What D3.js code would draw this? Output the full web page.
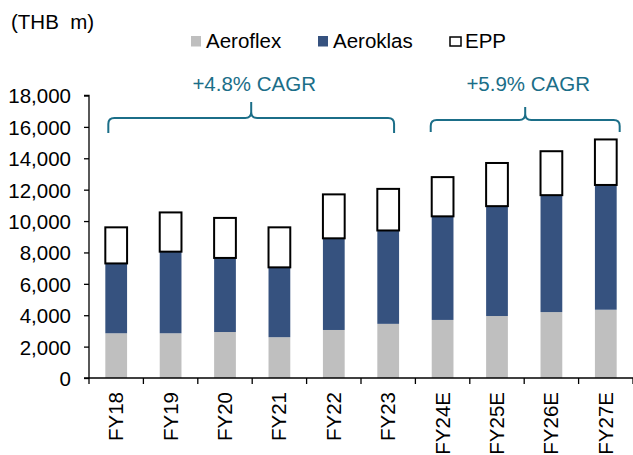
<!DOCTYPE html>
<html><head><meta charset="utf-8">
<script src="https://cdn.jsdelivr.net/npm/d3@7"></script>
<style>body{margin:0;background:#fff}svg{display:block}text{font-family:Arial,"Liberation Sans",sans-serif}</style>
</head><body><svg id="c" width="633" height="455"></svg>
<script>
const categories = ["FY18","FY19","FY20","FY21","FY22","FY23","FY24E","FY25E","FY26E","FY27E"];
const aeroflex = [2850,2850,2930,2600,3060,3450,3700,3950,4200,4350];
const aeroklas = [4450,5200,4720,4450,5840,5950,6600,7000,7450,7950];
const epp      = [2300,2500,2550,2550,2800,2650,2500,2750,2800,2900];
const yTicks = [0,2000,4000,6000,8000,10000,12000,14000,16000,18000];
const seriesNames = ["Aeroflex","Aeroklas","EPP"];
const cagrLabels = ["+4.8% CAGR","+5.9% CAGR"];
const cagrRanges = [["FY18","FY23"],["FY24E","FY27E"]];

const svg = d3.select("#c");
const L=89, R=633, T=95.5, B=378;
const FS=20.5;
const x = d3.scaleBand().domain(categories).range([L,R]).paddingInner(0).paddingOuter(0);
const y = d3.scaleLinear().domain([0,18000]).range([B,T]);
const bw = x.bandwidth()*0.4;
const bx = c => x(c)+(x.bandwidth()-bw)/2;
const font = "Arial, 'Liberation Sans', sans-serif";

// bars
const g = svg.append("g");
categories.forEach((c,i)=>{
  const a=aeroflex[i], k=aeroklas[i], e=epp[i];
  g.append("rect").attr("x",bx(c)).attr("width",bw).attr("y",y(a)).attr("height",y(0)-y(a)).attr("fill","#bfbfbf");
  g.append("rect").attr("x",bx(c)).attr("width",bw).attr("y",y(a+k)).attr("height",y(a)-y(a+k)).attr("fill","#36527f");
  g.append("rect").attr("x",bx(c)).attr("width",bw).attr("y",y(a+k+e)).attr("height",y(a+k)-y(a+k+e)).attr("fill","#fff").attr("stroke","#000").attr("stroke-width",2);
});

// y axis
const ya = svg.append("g").attr("transform",`translate(${L},0)`)
  .call(d3.axisLeft(y).tickValues(yTicks).tickFormat(d3.format(",")).tickSize(5).tickPadding(13));
ya.select(".domain").attr("stroke","#000").attr("stroke-width",1.3).attr("d",`M-5,${y(18000)}H0V${y(0)}`);
ya.selectAll(".tick line").attr("stroke","#000").attr("stroke-width",1.3);
ya.selectAll("text").attr("font-size",FS).attr("fill","#000").attr("font-family",font).attr("dy","0.36em");

// x axis
const xa = svg.append("g").attr("transform",`translate(0,${B})`);
xa.append("line").attr("x1",L-5).attr("x2",R).attr("y1",0).attr("y2",0).attr("stroke","#000").attr("stroke-width",1.3);
categories.forEach(c=>{
  xa.append("line").attr("x1",x(c)+x.bandwidth()).attr("x2",x(c)+x.bandwidth()).attr("y1",0).attr("y2",6).attr("stroke","#000").attr("stroke-width",1.3);
});
xa.append("line").attr("x1",L).attr("x2",L).attr("y1",0).attr("y2",6).attr("stroke","#000").attr("stroke-width",1.3);
categories.forEach(c=>{
  const cx = x(c)+x.bandwidth()/2;
  xa.append("text").text(c).attr("transform",`translate(${cx+7},14) rotate(-90)`)
    .attr("text-anchor","end").attr("font-size",FS).attr("fill","#000").attr("font-family",font);
});

// unit label
svg.append("text").text("(THB\u00a0\u00a0m)").attr("x",11).attr("y",29).attr("font-size",FS).attr("fill","#000").attr("font-family",font);

// legend
const legX=[191,318,449];
const legColors=["#bfbfbf","#36527f","#fff"];
seriesNames.forEach((n,i)=>{
  if(i<2) svg.append("rect").attr("x",legX[i]).attr("y",36).attr("width",10).attr("height",10.5).attr("fill",legColors[i]);
  else svg.append("rect").attr("x",legX[i]+1).attr("y",37).attr("width",11).attr("height",9).attr("fill","#fff").attr("stroke","#000").attr("stroke-width",1.5);
  svg.append("text").text(n).attr("x",legX[i]+(i<2?15:16)).attr("y",48).attr("font-size",FS).attr("fill","#000").attr("font-family",font);
});

// CAGR braces
const teal="#1b6e88";
const braceY=[118,120], peakY=[102,107], endY=[133,132];
cagrRanges.forEach((r,i)=>{
  const x1 = bx(r[0])+(i===0?3:-1), x2 = bx(r[1])+bw+(i===0?-5:3);
  const xm=(x1+x2)/2, h=braceY[i], r0=6;
  const d=`M${x1},${endY[i]} L${x1},${h+r0} Q${x1},${h} ${x1+r0},${h} L${xm-r0},${h} Q${xm},${h} ${xm},${h-r0} L${xm},${peakY[i]} M${xm},${h-r0} Q${xm},${h} ${xm+r0},${h} L${x2-r0},${h} Q${x2},${h} ${x2},${h+r0} L${x2},${endY[i]}`;
  svg.append("path").attr("d",d).attr("fill","none").attr("stroke",teal).attr("stroke-width",2);
  svg.append("text").text(cagrLabels[i]).attr("x",xm+3).attr("y",91).attr("text-anchor","middle").attr("font-size",FS).attr("fill",teal).attr("font-family",font);
});
</script></body></html>
